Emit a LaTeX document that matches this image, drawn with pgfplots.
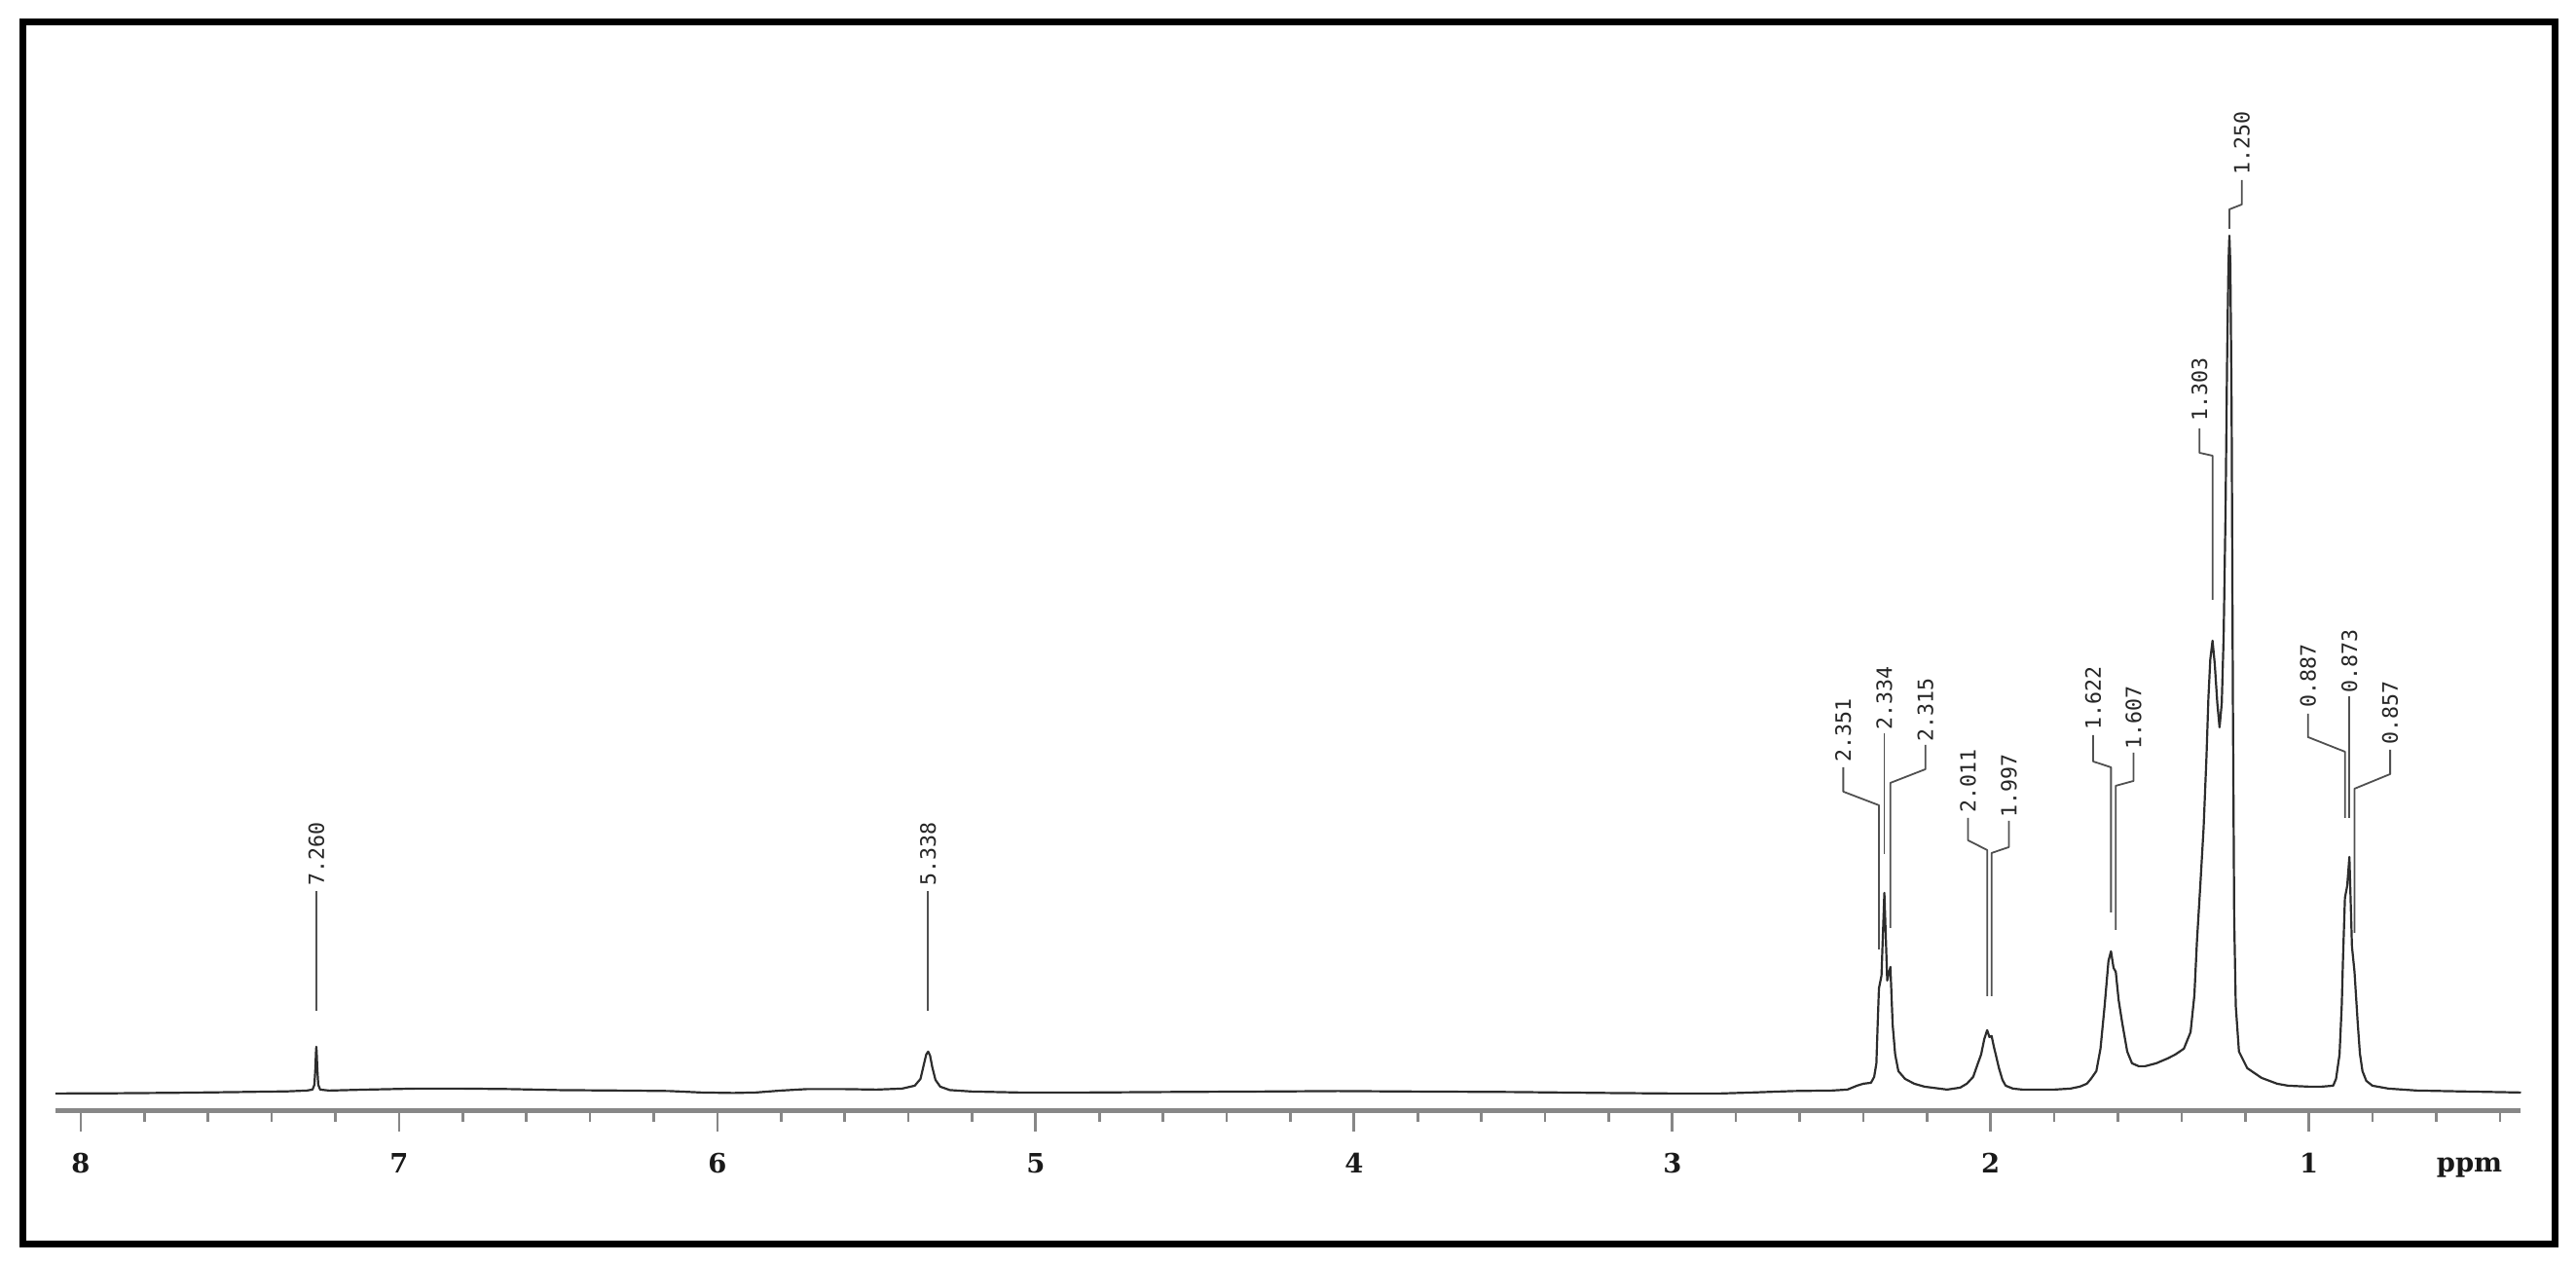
\documentclass[border=0pt]{standalone}
\usepackage{fontspec}
\setmainfont{DejaVu Serif}
\newfontfamily\labfont{DejaVu Sans Mono}
\usepackage{pgfplots}
\pgfplotsset{compat=1.18}
\definecolor{axgray}{RGB}{135,135,135}
\definecolor{speccol}{RGB}{45,45,45}
\definecolor{leadcol}{RGB}{80,80,80}
\pgfplotsset{leader/.style={color=leadcol, line width=0.9pt, line join=round, no markers}}

% peak label: ppm of text, height of text foot, text
\newcommand\pk[3]{\node[rotate=90,anchor=west,inner sep=0pt,text=black!85,
  font=\labfont\fontsize{10.8}{12}\selectfont] at (axis cs:#1,#2) {#3};}

\begin{document}
\begin{tikzpicture}
\begin{axis}[
  scale only axis, width=1266.5pt, height=550.25pt,
  x dir=reverse, xmin=0.334, xmax=8.08, ymin=-18.5, ymax=1082,
  axis x line*=bottom, axis y line=none, ytick=\empty,
  x axis line style={color=axgray, line width=2.2pt},
  xtick={1,2,3,4,5,6,7,8},
  minor xtick={0.4,0.6,0.8,1.2,1.4,1.6,1.8,2.2,2.4,2.6,2.8,3.2,3.4,3.6,3.8,4.2,4.4,4.6,4.8,5.2,5.4,5.6,5.8,6.2,6.4,6.6,6.8,7.2,7.4,7.6,7.8},
  tick align=outside, major tick length=10.75pt, minor tick length=5.75pt,
  major tick style={color=axgray, line width=1.4pt},
  minor tick style={color=axgray, line width=1.3pt},
  /pgf/number format/assume math mode=true,
  xticklabel style={font=\fontsize{13.7}{16}\selectfont\bfseries, text=black!90, anchor=base, yshift=-21.5pt},
  clip=false,
]
% spectrum: x in ppm, y in pixels above the baseline
\addplot[color=speccol, line width=1.1pt, line join=round, no markers] coordinates {
(8.08,-1) (7.90,-0.8) (7.70,-0.3) (7.50,0.5) (7.35,1.2) (7.29,2) (7.272,3) (7.266,8)
(7.263,25) (7.261,42) (7.260,47) (7.259,42) (7.257,25) (7.254,8) (7.248,3) (7.22,2)
(7.10,3) (6.95,4) (6.80,4) (6.65,3.5) (6.50,2.5) (6.30,2) (6.15,1.5) (6.05,0) (5.95,-0.5)
(5.88,0) (5.80,2) (5.72,3.5) (5.60,3.5) (5.50,3) (5.42,4) (5.38,7) (5.362,14) (5.352,28)
(5.344,39) (5.338,42) (5.332,38) (5.325,26) (5.315,13) (5.30,6) (5.27,2.5) (5.20,1)
(5.05,0) (4.85,0) (4.60,0.5) (4.30,1) (4.05,1.5) (3.80,1) (3.50,0.5) (3.20,-0.5) (3.00,-1)
(2.85,-1) (2.75,0) (2.62,1.5) (2.50,2) (2.45,3) (2.42,7) (2.40,9) (2.376,10) (2.366,16)
(2.359,30) (2.355,70) (2.351,107) (2.343,120) (2.334,205) (2.325,115) (2.315,129)
(2.308,70) (2.300,39) (2.290,22) (2.269,14) (2.240,9) (2.208,6) (2.137,3) (2.096,5)
(2.075,9) (2.055,16) (2.040,30) (2.030,39) (2.020,55) (2.011,64) (2.004,57) (1.997,58)
(1.990,47) (1.984,39) (1.974,25) (1.963,13) (1.953,7) (1.93,4) (1.90,3) (1.80,3) (1.75,4)
(1.72,6) (1.698,9) (1.685,14) (1.668,22) (1.655,45) (1.642,89) (1.630,135) (1.622,145)
(1.614,128) (1.607,124) (1.598,95) (1.587,72) (1.571,42) (1.556,30) (1.535,27) (1.515,27)
(1.48,30) (1.444,35) (1.42,39) (1.393,45) (1.372,62) (1.36,100) (1.352,155) (1.341,215)
(1.331,272) (1.322,345) (1.316,405) (1.310,445) (1.303,464) (1.296,440) (1.288,400)
(1.281,375) (1.274,400) (1.268,470) (1.262,600) (1.257,760) (1.253,850) (1.250,880)
(1.247,850) (1.243,700) (1.239,400) (1.235,180) (1.230,89) (1.220,42) (1.194,25)
(1.149,15) (1.10,9) (1.066,7) (1.00,6) (0.96,6) (0.924,7) (0.915,14) (0.904,39) (0.897,90)
(0.893,139) (0.887,200) (0.880,212) (0.873,242) (0.865,150) (0.857,124) (0.847,72)
(0.840,40) (0.832,22) (0.820,12) (0.801,7) (0.75,4) (0.66,2) (0.50,1) (0.334,0)
};
% leader lines
\addplot[leader] coordinates {(7.260,207) (7.260,84)};
\addplot[leader] coordinates {(5.338,207) (5.338,84)};
\addplot[leader] coordinates {(2.463,334) (2.463,309) (2.351,295) (2.351,147)};
\addplot[leader] coordinates {(2.334,369) (2.334,245)};
\addplot[leader] coordinates {(2.205,357) (2.205,332) (2.315,318) (2.315,169)};
\addplot[leader] coordinates {(2.071,282) (2.071,259) (2.011,249) (2.011,99)};
\addplot[leader] coordinates {(1.943,279) (1.943,252) (1.997,246) (1.997,99)};
\addplot[leader] coordinates {(1.678,367) (1.678,340) (1.622,334) (1.622,185)};
\addplot[leader] coordinates {(1.551,349) (1.551,320) (1.607,315) (1.607,167)};
\addplot[leader] coordinates {(1.344,682) (1.344,657) (1.303,654) (1.303,506)};
\addplot[leader] coordinates {(1.211,937) (1.211,912) (1.250,907) (1.250,887)};
\addplot[leader] coordinates {(1.003,389) (1.003,365) (0.887,350) (0.887,282)};
\addplot[leader] coordinates {(0.873,407) (0.873,282)};
\addplot[leader] coordinates {(0.745,352) (0.745,327) (0.857,312) (0.857,164)};
% peak labels
\pk{7.260}{212}{7.260}
\pk{5.338}{212}{5.338}
\pk{2.463}{339}{2.351}
\pk{2.334}{372}{2.334}
\pk{2.205}{360}{2.315}
\pk{2.071}{287}{2.011}
\pk{1.943}{282}{1.997}
\pk{1.678}{372}{1.622}
\pk{1.551}{352}{1.607}
\pk{1.344}{689}{1.303}
\pk{1.211}{942}{1.250}
\pk{1.003}{395}{0.887}
\pk{0.873}{410}{0.873}
\pk{0.745}{357}{0.857}
% unit label and frame
\node[anchor=base, inner sep=0pt, text=black!90, font=\fontsize{13.7}{16}\selectfont\bfseries] at (axis cs:0.496,-82) {ppm};
\draw[black, line width=3.5pt] (axis cs:8.182,-155.5) rectangle (axis cs:0.2269,1099.5);
\coordinate (bbA) at (axis cs:8.2539,-176);
\coordinate (bbB) at (axis cs:0.1612,1122);
\end{axis}
\pgfresetboundingbox
\path (bbA) rectangle (bbB);
\end{tikzpicture}
\end{document}
